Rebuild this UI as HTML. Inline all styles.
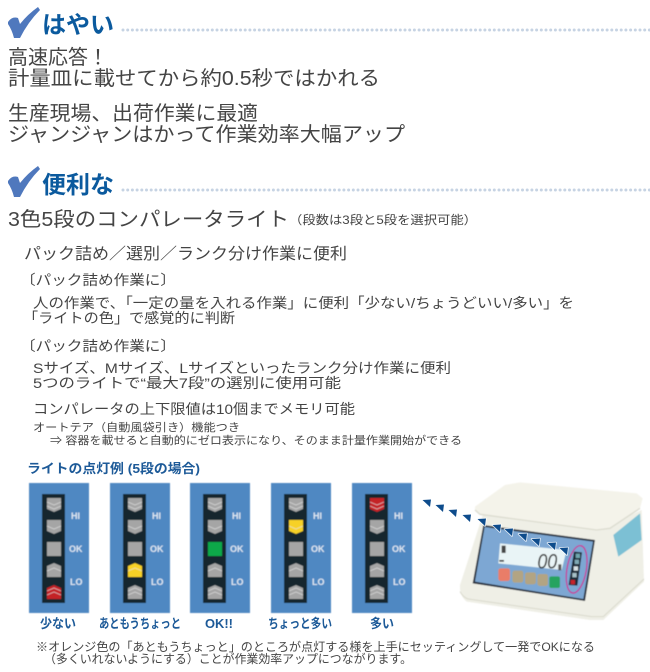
<!DOCTYPE html>
<html lang="ja"><head><meta charset="utf-8"><style>
html,body{margin:0;padding:0;background:#fff;width:650px;height:672px;overflow:hidden}
svg{display:block}
text{font-family:"Liberation Sans","Noto Sans CJK JP",sans-serif;fill:#444}
.h{font-weight:700;font-size:24px;fill:#0b5a9e}
.b{font-weight:700;font-size:13px;fill:#1d5a98}
.l{font-weight:700;font-size:9px;fill:#dfe8f2;font-family:"Liberation Sans",sans-serif}
</style></head><body>
<svg width="650" height="672" viewBox="0 0 650 672" xmlns="http://www.w3.org/2000/svg">
<defs>
<filter id="bl" x="-5%" y="-5%" width="110%" height="110%"><feGaussianBlur stdDeviation=".45"/></filter>
<path id="ck" d="M8 22Q12 16 18 18L20 24Q28 14 38 7L40 10Q28 22 20 38L14 38Q12 30 8 24Z" fill="#4f78bd"/>
<g id="l1"><path d="M0 0L14 0L14 11L7 14L0 11Z" fill="currentColor"/><path d="M0 4L7 7L14 4M0 8L7 11L14 8" fill="none" stroke="#e4e4e4" stroke-opacity=".7" stroke-width=".9"/></g>
<g id="l2"><path d="M0 0L14 0L14 11L7 14L0 11Z" fill="currentColor"/><path d="M0 6L7 9L14 6" fill="none" stroke="#e4e4e4" stroke-opacity=".7" stroke-width=".9"/></g>
<g id="l4"><path d="M7 0L14 3L14 14L0 14L0 3Z" fill="currentColor"/><path d="M0 8L7 5L14 8" fill="none" stroke="#e4e4e4" stroke-opacity=".7" stroke-width=".9"/></g>
<g id="l5"><path d="M7 0L14 3L14 14L0 14L0 3Z" fill="currentColor"/><path d="M0 6L7 3L14 6M0 10L7 7L14 10" fill="none" stroke="#e4e4e4" stroke-opacity=".7" stroke-width=".9"/></g>
<g id="pn">
<rect x="0" y="0" width="60" height="130" fill="#5088c2"/>
<rect x="13" y="11" width="23" height="109" fill="#12262f"/>
<text class="l" x="42" y="36">HI</text><text class="l" x="40" y="69">OK</text><text class="l" x="41" y="102">LO</text>
</g>
<path id="ar" d="M-4.5 -3L4 -3.5L3 4Z" fill="#0e4c8c"/>
</defs>

<use href="#ck"/>
<text class="h" x="42" y="33" textLength="72" lengthAdjust="spacingAndGlyphs">はやい</text>
<line x1="123" y1="30" x2="650" y2="30" stroke="#c6d3e3" stroke-width="3" stroke-linecap="round" stroke-dasharray="0 4.7"/>
<text x="8" y="64" font-size="20" textLength="100" lengthAdjust="spacingAndGlyphs">高速応答！</text>
<text x="8" y="85" font-size="20" textLength="372" lengthAdjust="spacingAndGlyphs">計量皿に載せてから約0.5秒ではかれる</text>
<text x="8" y="120" font-size="20" textLength="250" lengthAdjust="spacingAndGlyphs">生産現場、出荷作業に最適</text>
<text x="8" y="141" font-size="20" textLength="397" lengthAdjust="spacingAndGlyphs">ジャンジャンはかって作業効率大幅アップ</text>

<use href="#ck" y="159"/>
<text class="h" x="42" y="193" textLength="72" lengthAdjust="spacingAndGlyphs">便利な</text>
<line x1="123" y1="190" x2="650" y2="190" stroke="#c6d3e3" stroke-width="3" stroke-linecap="round" stroke-dasharray="0 4.7"/>
<text x="8" y="226" font-size="20" textLength="281" lengthAdjust="spacingAndGlyphs">3色5段のコンパレータライト</text>
<text x="289" y="224" font-size="12" textLength="188" lengthAdjust="spacingAndGlyphs">（段数は3段と5段を選択可能）</text>

<text x="24" y="259" font-size="16" textLength="323" lengthAdjust="spacingAndGlyphs">パック詰め／選別／ランク分け作業に便利</text>
<text x="20" y="285" font-size="14" textLength="156" lengthAdjust="spacingAndGlyphs">〔パック詰め作業に〕</text>
<text x="33" y="308" font-size="14" textLength="541" lengthAdjust="spacingAndGlyphs">人の作業で、「一定の量を入れる作業」に便利「少ない/ちょうどいい/多い」を</text>
<text x="23" y="323" font-size="14" textLength="212" lengthAdjust="spacingAndGlyphs">「ライトの色」で感覚的に判断</text>
<text x="20" y="351" font-size="14" textLength="156" lengthAdjust="spacingAndGlyphs">〔パック詰め作業に〕</text>
<text x="33" y="373" font-size="14" textLength="418" lengthAdjust="spacingAndGlyphs">Sサイズ、Mサイズ、Lサイズといったランク分け作業に便利</text>
<text x="33" y="388" font-size="14" textLength="308" lengthAdjust="spacingAndGlyphs">5つのライトで“最大7段”の選別に使用可能</text>
<text x="33" y="414" font-size="14" textLength="322" lengthAdjust="spacingAndGlyphs">コンパレータの上下限値は10個までメモリ可能</text>
<text x="33" y="431" font-size="11" textLength="207" lengthAdjust="spacingAndGlyphs">オートテア（自動風袋引き）機能つき</text>
<text x="50" y="444" font-size="11" textLength="412" lengthAdjust="spacingAndGlyphs">⇒ 容器を載せると自動的にゼロ表示になり、そのまま計量作業開始ができる</text>

<text class="b" x="27" y="473" textLength="173" lengthAdjust="spacingAndGlyphs">ライトの点灯例 (5段の場合)</text>

<g filter="url(#bl)">
<g transform="translate(29,483)"><use href="#pn"/>
<g transform="translate(18,15)" color="#a5a5a5"><use href="#l1"/></g><g transform="translate(18,37)" color="#a5a5a5"><use href="#l2"/></g><rect x="18" y="59" width="14" height="14" fill="#a5a5a5"/><g transform="translate(18,80)" color="#a5a5a5"><use href="#l4"/></g><g transform="translate(18,102)" color="#c42026"><use href="#l5"/></g></g>
<g transform="translate(110,483)"><use href="#pn"/>
<g transform="translate(18,15)" color="#a5a5a5"><use href="#l1"/></g><g transform="translate(18,37)" color="#a5a5a5"><use href="#l2"/></g><rect x="18" y="59" width="14" height="14" fill="#a5a5a5"/><g transform="translate(18,80)" color="#f7d126"><use href="#l4"/></g><g transform="translate(18,102)" color="#a5a5a5"><use href="#l5"/></g></g>
<g transform="translate(190,483)"><use href="#pn"/>
<g transform="translate(18,15)" color="#a5a5a5"><use href="#l1"/></g><g transform="translate(18,37)" color="#a5a5a5"><use href="#l2"/></g><rect x="18" y="59" width="14" height="14" fill="#0fa84a"/><g transform="translate(18,80)" color="#a5a5a5"><use href="#l4"/></g><g transform="translate(18,102)" color="#a5a5a5"><use href="#l5"/></g></g>
<g transform="translate(271,483)"><use href="#pn"/>
<g transform="translate(18,15)" color="#a5a5a5"><use href="#l1"/></g><g transform="translate(18,37)" color="#f7d126"><use href="#l2"/></g><rect x="18" y="59" width="14" height="14" fill="#a5a5a5"/><g transform="translate(18,80)" color="#a5a5a5"><use href="#l4"/></g><g transform="translate(18,102)" color="#a5a5a5"><use href="#l5"/></g></g>
<g transform="translate(352,483)"><use href="#pn"/>
<g transform="translate(18,15)" color="#c42026"><use href="#l1"/></g><g transform="translate(18,37)" color="#a5a5a5"><use href="#l2"/></g><rect x="18" y="59" width="14" height="14" fill="#a5a5a5"/><g transform="translate(18,80)" color="#a5a5a5"><use href="#l4"/></g><g transform="translate(18,102)" color="#a5a5a5"><use href="#l5"/></g></g>
</g>

<text class="b" x="40" y="628" textLength="36" lengthAdjust="spacingAndGlyphs">少ない</text>
<text class="b" x="99" y="628" textLength="82" lengthAdjust="spacingAndGlyphs">あともうちょっと</text>
<text class="b" x="205" y="628" textLength="28" lengthAdjust="spacingAndGlyphs">OK!!</text>
<text class="b" x="268" y="628" textLength="64" lengthAdjust="spacingAndGlyphs">ちょっと多い</text>
<text class="b" x="370" y="628" textLength="24" lengthAdjust="spacingAndGlyphs">多い</text>

<text x="36" y="651" font-size="12" textLength="559" lengthAdjust="spacingAndGlyphs">※オレンジ色の「あともうちょっと」のところが点灯する様を上手にセッティングして一発でOKになる</text>
<text x="44" y="663" font-size="12" textLength="368" lengthAdjust="spacingAndGlyphs">（多くいれないようにする）ことが作業効率アップにつながります。</text>

<!-- scale -->
<g filter="url(#bl)">
<g transform="translate(450,475) scale(.3333)">
<path d="M100 115L30 330Q28 362 50 380L420 435L460 435L582 320L575 105L440 165Z" fill="#efefe6"/>
<path d="M30 350Q40 368 55 372L425 425L460 425L582 312" fill="none" stroke="#d9d9cd" stroke-width="3"/>
<path d="M490 180L570 115L575 195L505 245Z" fill="#7cc0d4"/>
<path d="M75 95L165 30L210 22L560 55L578 70L570 100L480 160L440 165L90 118L75 105Z" fill="#f4f3ea"/>
<path d="M75 105L90 118L440 165L480 160L570 100" fill="none" stroke="#dcdcd0" stroke-width="4"/>
<path d="M100 150L435 195L405 378L68 325Z" fill="#2a3340"/>
<path d="M104 156L429 200L400 372L75 320Z" fill="#7da7d3"/>
<path d="M150 205L350 225L335 285L145 265Z" fill="#e9f4f6"/>
<text x="262" y="280" font-size="64" font-weight="400" style="fill:#2a2a2a" textLength="60" lengthAdjust="spacingAndGlyphs" font-style="italic">00</text>
<rect x="155" y="212" width="12" height="22" fill="#444"/>
<rect x="148" y="255" width="14" height="5" fill="#222"/>
<rect x="325" y="268" width="9" height="18" fill="#555"/>
<rect x="145" y="280" width="35" height="38" rx="7" fill="#e97d68"/>
<rect x="187" y="287" width="33" height="36" rx="7" fill="#b2a483"/>
<rect x="225" y="292" width="33" height="36" rx="7" fill="#b2a483"/>
<rect x="262" y="297" width="32" height="36" rx="7" fill="#b2a483"/>
<rect x="298" y="304" width="32" height="35" rx="6" fill="#27a35f"/>
<path d="M372 230L396 232L382 332L356 330Z" fill="#1c2a38"/>
<rect x="377" y="236" width="13" height="13" fill="#6fa6ae"/><rect x="374" y="254" width="13" height="13" fill="#7fa9b5"/><rect x="371" y="274" width="13" height="13" fill="#d9e3e6"/><rect x="367" y="294" width="13" height="13" fill="#a7c0c8"/><rect x="362" y="315" width="13" height="13" fill="#c8202c"/>
<ellipse cx="380" cy="283" rx="29" ry="72" transform="rotate(10 380 283)" fill="none" stroke="#c43b9a" stroke-width="4"/>
</g>
</g>
<g stroke="#fff" stroke-width="1.6" stroke-opacity=".8" paint-order="stroke" stroke-linejoin="round">
<use href="#ar" x="427" y="503"/><use href="#ar" x="440" y="508"/><use href="#ar" x="453" y="513"/><use href="#ar" x="467" y="518"/><use href="#ar" x="482" y="522"/><use href="#ar" x="497" y="528"/><use href="#ar" x="509" y="532"/><use href="#ar" x="523" y="537"/><use href="#ar" x="536" y="542"/><use href="#ar" x="552" y="546"/><use href="#ar" x="564" y="551"/>
</g>
</svg>
</body></html>
